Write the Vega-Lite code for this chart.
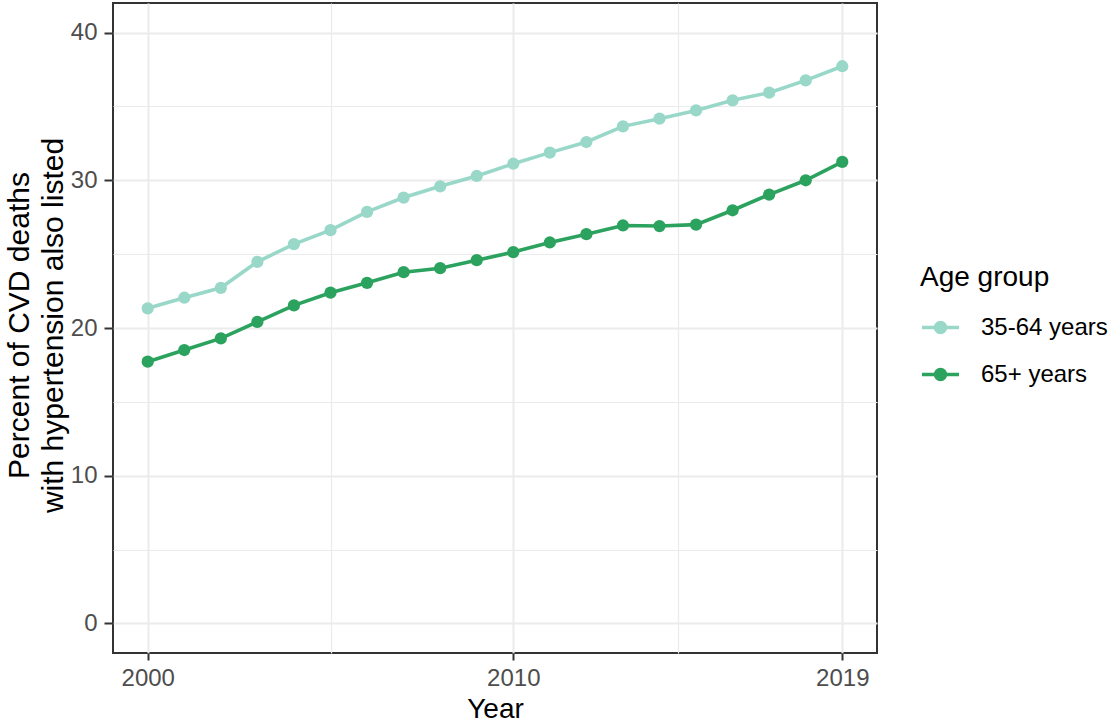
{
  "$schema": "https://vega.github.io/schema/vega-lite/v6.json",
  "autosize": "none",
  "width": 764,
  "height": 650,
  "padding": {"left": 113, "top": 3, "right": 233, "bottom": 74},
  "background": "white",
  "config": {
    "font": "Liberation Sans",
    "view": {"stroke": "#333333", "strokeWidth": 2},
    "axis": {
      "domain": false,
      "gridColor": "#ebebeb",
      "tickColor": "#333333",
      "tickWidth": 2,
      "labelColor": "#4d4d4d",
      "labelFontSize": 24,
      "labelOverlap": false,
      "titleColor": "#000000",
      "titleFontWeight": "normal"
    },
    "legend": {
      "padding": 0,
      "titleFontWeight": "normal"
    }
  },
  "data": {
    "values": [
      {"Year": 2000, "group": "35-64 years", "pct": 21.33},
      {"Year": 2001, "group": "35-64 years", "pct": 22.05},
      {"Year": 2002, "group": "35-64 years", "pct": 22.72},
      {"Year": 2003, "group": "35-64 years", "pct": 24.48},
      {"Year": 2004, "group": "35-64 years", "pct": 25.68},
      {"Year": 2005, "group": "35-64 years", "pct": 26.62},
      {"Year": 2006, "group": "35-64 years", "pct": 27.86},
      {"Year": 2007, "group": "35-64 years", "pct": 28.83},
      {"Year": 2008, "group": "35-64 years", "pct": 29.59},
      {"Year": 2009, "group": "35-64 years", "pct": 30.29},
      {"Year": 2010, "group": "35-64 years", "pct": 31.12},
      {"Year": 2011, "group": "35-64 years", "pct": 31.87},
      {"Year": 2012, "group": "35-64 years", "pct": 32.59},
      {"Year": 2013, "group": "35-64 years", "pct": 33.65},
      {"Year": 2014, "group": "35-64 years", "pct": 34.17},
      {"Year": 2015, "group": "35-64 years", "pct": 34.73},
      {"Year": 2016, "group": "35-64 years", "pct": 35.41},
      {"Year": 2017, "group": "35-64 years", "pct": 35.93},
      {"Year": 2018, "group": "35-64 years", "pct": 36.76},
      {"Year": 2019, "group": "35-64 years", "pct": 37.72},
      {"Year": 2000, "group": "65+ years", "pct": 17.72},
      {"Year": 2001, "group": "65+ years", "pct": 18.51},
      {"Year": 2002, "group": "65+ years", "pct": 19.3},
      {"Year": 2003, "group": "65+ years", "pct": 20.41},
      {"Year": 2004, "group": "65+ years", "pct": 21.53},
      {"Year": 2005, "group": "65+ years", "pct": 22.39},
      {"Year": 2006, "group": "65+ years", "pct": 23.06},
      {"Year": 2007, "group": "65+ years", "pct": 23.78},
      {"Year": 2008, "group": "65+ years", "pct": 24.05},
      {"Year": 2009, "group": "65+ years", "pct": 24.59},
      {"Year": 2010, "group": "65+ years", "pct": 25.14},
      {"Year": 2011, "group": "65+ years", "pct": 25.79},
      {"Year": 2012, "group": "65+ years", "pct": 26.35},
      {"Year": 2013, "group": "65+ years", "pct": 26.94},
      {"Year": 2014, "group": "65+ years", "pct": 26.9},
      {"Year": 2015, "group": "65+ years", "pct": 27.0},
      {"Year": 2016, "group": "65+ years", "pct": 27.97},
      {"Year": 2017, "group": "65+ years", "pct": 29.03},
      {"Year": 2018, "group": "65+ years", "pct": 30.0},
      {"Year": 2019, "group": "65+ years", "pct": 31.24}
    ]
  },
  "encoding": {
    "x": {
      "field": "Year",
      "type": "quantitative",
      "scale": {"domain": [1999.05, 2019.95], "nice": false, "zero": false},
      "axis": {
        "title": "Year",
        "titleFontSize": 28,
        "titlePadding": 5,
        "tickSize": 7,
        "labelPadding": 6,
        "format": "d",
        "values": [2000, 2005, 2010, 2014.5, 2019],
        "labelExpr": "(datum.value === 2005 || datum.value === 2014.5) ? '' : datum.label",
        "tickOpacity": {"condition": {"test": "datum.value === 2005 || datum.value === 2014.5", "value": 0}, "value": 1},
        "gridWidth": {"condition": {"test": "datum.value === 2005 || datum.value === 2014.5", "value": 1.2}, "value": 2}
      }
    },
    "y": {
      "field": "pct",
      "type": "quantitative",
      "scale": {"domain": [-2, 42], "nice": false, "zero": false},
      "axis": {
        "title": ["Percent of CVD deaths", "with hypertension also listed"],
        "titleFontSize": 30,
        "titleLineHeight": 34,
        "titleAngle": -90,
        "titleAlign": "center",
        "titleBaseline": "top",
        "titleX": -109,
        "titleY": 322,
        "tickSize": 9,
        "labelPadding": 7,
        "values": [0, 5, 10, 15, 20, 25, 30, 35, 40],
        "labelExpr": "datum.value % 10 === 0 ? datum.label : ''",
        "tickOpacity": {"condition": {"test": "datum.value % 10 === 0", "value": 1}, "value": 0},
        "gridWidth": {"condition": {"test": "datum.value % 10 === 0", "value": 2}, "value": 1.2}
      }
    },
    "color": {
      "field": "group",
      "type": "nominal",
      "scale": {"domain": ["35-64 years", "65+ years"], "range": ["#99d8c9", "#2ca25f"]},
      "legend": {
        "title": "Age group",
        "orient": "none",
        "legendX": 807,
        "legendY": 261,
        "titleFontSize": 28,
        "titleColor": "#000000",
        "titlePadding": 15,
        "labelFontSize": 24,
        "labelColor": "#000000",
        "labelOffset": 20,
        "rowPadding": 14,
        "symbolSize": 1369,
        "symbolType": "M-1,0H1M-0.27,0A0.27,0.27,0,1,0,0.27,0A0.27,0.27,0,1,0,-0.27,0Z",
        "symbolStrokeWidth": 3.5,
        "encode": {
          "symbols": {
            "update": {
              "fill": {"scale": "color", "field": "value"},
              "stroke": {"scale": "color", "field": "value"},
              "opacity": {"value": 1}
            }
          }
        }
      }
    }
  },
  "layer": [
    {"mark": {"type": "line", "strokeWidth": 3.6}},
    {"mark": {"type": "circle", "size": 150, "opacity": 1}}
  ]
}
